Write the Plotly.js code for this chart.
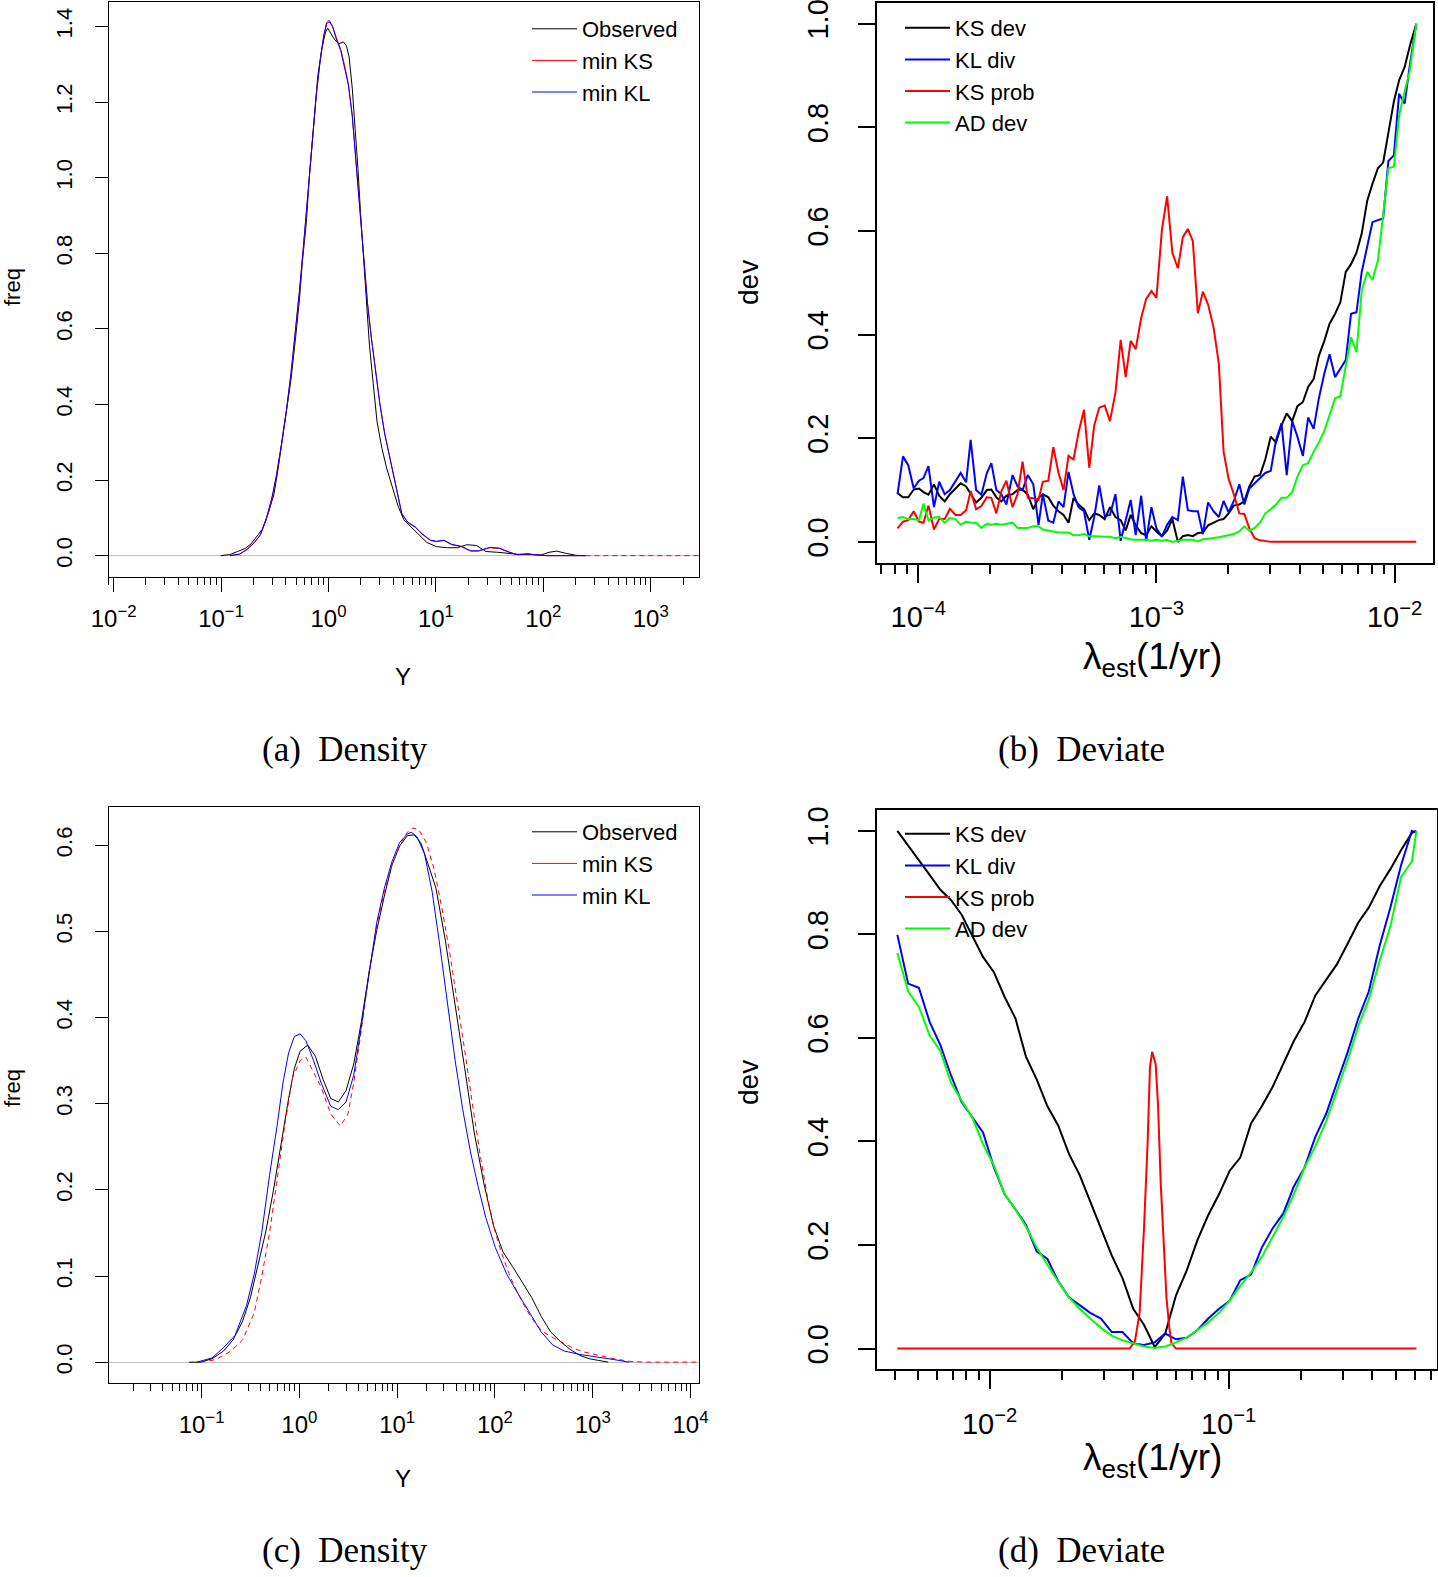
<!DOCTYPE html>
<html><head><meta charset="utf-8">
<script src="https://cdn.plot.ly/plotly-3.0.1.min.js"></script>
<style>html,body{margin:0;padding:0;background:#fff}#chart{width:1438px;height:1577px}</style>
</head><body><div id="chart"></div>
<script>
// ---------- Panel (a): density, values read as log10(Y) and freq ----------
const aObsLogY = [-1.004,-0.918,-0.847,-0.776,-0.722,-0.669,-0.616,-0.562,-0.509,-0.473,-0.438,-0.391,-0.349,-0.306,-0.270,-0.242,-0.206,-0.178,-0.153,-0.128,-0.100,-0.064,-0.028,-0.007,0.025,0.060,0.096,0.139,0.167,0.192,0.221,0.249,0.274,0.299,0.327,0.352,0.381,0.416,0.452,0.498,0.541,0.594,0.648,0.701,0.772,0.843,0.915,1.004,1.110,1.199,1.288,1.377,1.466,1.573,1.680,1.786,1.893,1.982,2.053,2.125,2.214,2.302,2.391];
const aObsFreq = [0,0.003,0.011,0.019,0.031,0.050,0.070,0.111,0.161,0.222,0.288,0.375,0.466,0.578,0.679,0.781,0.882,1.004,1.085,1.187,1.268,1.339,1.385,1.395,1.380,1.364,1.354,1.359,1.349,1.319,1.237,1.136,1.024,0.903,0.781,0.659,0.557,0.456,0.354,0.283,0.232,0.182,0.131,0.095,0.075,0.055,0.035,0.024,0.021,0.021,0.029,0.027,0.011,0.009,0.006,0.003,0.003,0.002,0.009,0.012,0.006,0.001,0];
const aFitLogY = [-0.918,-0.829,-0.758,-0.687,-0.633,-0.580,-0.527,-0.484,-0.438,-0.391,-0.349,-0.306,-0.270,-0.235,-0.199,-0.171,-0.142,-0.114,-0.082,-0.046,-0.018,0.007,0.036,0.071,0.114,0.149,0.185,0.221,0.256,0.292,0.327,0.363,0.399,0.434,0.477,0.523,0.577,0.630,0.683,0.737,0.808,0.879,0.950,1.004,1.075,1.146,1.235,1.324,1.395,1.502,1.591,1.680,1.751,1.858,1.929,2.036,2.391];
const aKSFreq = [0,0.004,0.016,0.035,0.055,0.095,0.151,0.212,0.293,0.385,0.481,0.598,0.700,0.811,0.933,1.035,1.126,1.217,1.298,1.370,1.406,1.412,1.400,1.370,1.339,1.298,1.248,1.166,1.044,0.923,0.801,0.669,0.578,0.496,0.405,0.324,0.253,0.182,0.111,0.088,0.075,0.055,0.040,0.037,0.040,0.029,0.024,0.012,0.012,0.021,0.019,0.009,0.003,0.005,0.002,0,0];
const aKLFreq = [0,0.004,0.017,0.036,0.056,0.097,0.153,0.214,0.295,0.387,0.483,0.600,0.702,0.813,0.935,1.037,1.128,1.219,1.300,1.374,1.410,1.416,1.402,1.368,1.336,1.295,1.245,1.163,1.041,0.920,0.798,0.666,0.575,0.494,0.403,0.322,0.251,0.180,0.110,0.089,0.076,0.056,0.041,0.038,0.041,0.030,0.025,0.013,0.013,0.022,0.020,0.010,0.003,0.005,0.002,0,0];
const aKSTailLogY = [2.391, 3.6];
const aKSTailFreq = [0, 0];

// ---------- Panel (b): deviates vs lambda_est, log10(lambda) ----------
const bLambdaLog = [-4.087,-4.064,-4.042,-4.019,-3.997,-3.978,-3.957,-3.934,-3.912,-3.889,-3.867,-3.844,-3.822,-3.799,-3.780,-3.757,-3.735,-3.712,-3.693,-3.672,-3.651,-3.630,-3.604,-3.583,-3.562,-3.540,-3.517,-3.495,-3.477,-3.454,-3.433,-3.411,-3.390,-3.369,-3.348,-3.327,-3.304,-3.282,-3.261,-3.240,-3.217,-3.195,-3.172,-3.150,-3.129,-3.108,-3.087,-3.064,-3.043,-3.021,-3.000,-2.977,-2.955,-2.933,-2.910,-2.889,-2.868,-2.847,-2.826,-2.805,-2.783,-2.760,-2.738,-2.718,-2.697,-2.675,-2.652,-2.631,-2.610,-2.588,-2.565,-2.543,-2.520,-2.498,-2.475,-2.453,-2.430,-2.408,-2.385,-2.363,-2.340,-2.318,-2.295,-2.273,-2.250,-2.228,-2.205,-2.183,-2.160,-2.138,-2.115,-2.093,-2.070,-2.048,-2.026,-2.003,-1.981,-1.958,-1.936,-1.909];
const bKSDev = [0.094,0.086,0.086,0.101,0.103,0.096,0.091,0.111,0.089,0.078,0.092,0.103,0.113,0.107,0.092,0.076,0.085,0.100,0.101,0.086,0.078,0.089,0.092,0.100,0.101,0.091,0.063,0.085,0.092,0.086,0.070,0.059,0.052,0.037,0.085,0.072,0.063,0.042,0.055,0.052,0.044,0.067,0.048,0.042,0.022,0.052,0.032,0.017,0.013,0.030,0.020,0.011,0.022,0.044,0.000,0.011,0.013,0.011,0.017,0.018,0.032,0.037,0.042,0.044,0.055,0.070,0.072,0.078,0.107,0.126,0.129,0.159,0.203,0.192,0.225,0.248,0.233,0.262,0.270,0.299,0.314,0.359,0.388,0.421,0.440,0.462,0.521,0.536,0.558,0.595,0.658,0.691,0.721,0.732,0.787,0.850,0.891,0.916,0.957,1.000];
const bKLDiv = [0.092,0.165,0.148,0.103,0.118,0.123,0.146,0.067,0.116,0.092,0.100,0.118,0.133,0.115,0.197,0.100,0.091,0.133,0.152,0.100,0.092,0.072,0.129,0.107,0.100,0.129,0.111,0.033,0.092,0.041,0.037,0.078,0.067,0.135,0.092,0.067,0.059,0.004,0.048,0.109,0.050,0.052,0.092,0.002,0.044,0.081,0.013,0.089,0.002,0.067,0.026,0.010,0.033,0.048,0.042,0.126,0.061,0.059,0.059,0.015,0.076,0.059,0.048,0.079,0.057,0.079,0.111,0.072,0.103,0.113,0.123,0.133,0.137,0.196,0.229,0.129,0.233,0.203,0.166,0.240,0.218,0.277,0.325,0.362,0.318,0.333,0.351,0.440,0.443,0.521,0.573,0.617,0.621,0.624,0.735,0.746,0.865,0.846,0.920,1.000];
const bKSProb = [0.026,0.039,0.042,0.059,0.039,0.037,0.070,0.024,0.044,0.044,0.064,0.052,0.052,0.061,0.098,0.063,0.069,0.086,0.085,0.055,0.098,0.118,0.067,0.092,0.155,0.085,0.084,0.081,0.116,0.118,0.183,0.133,0.100,0.166,0.159,0.211,0.255,0.143,0.225,0.259,0.263,0.233,0.288,0.390,0.318,0.388,0.372,0.432,0.469,0.484,0.471,0.602,0.667,0.558,0.528,0.588,0.604,0.580,0.441,0.483,0.458,0.414,0.344,0.174,0.122,0.092,0.055,0.054,0.026,0.007,0.003,0.001,0,0,0,0,0,0,0,0,0,0,0,0,0,0,0,0,0,0,0,0,0,0,0,0,0,0,0,0];
const bADDev = [0.046,0.048,0.044,0.044,0.042,0.074,0.041,0.047,0.048,0.037,0.046,0.044,0.033,0.039,0.037,0.037,0.027,0.035,0.033,0.035,0.033,0.035,0.037,0.027,0.027,0.027,0.030,0.030,0.024,0.022,0.020,0.018,0.018,0.018,0.013,0.013,0.015,0.011,0.011,0.010,0.010,0.010,0.007,0.010,0.007,0.005,0.004,0.004,0.004,0.002,0.004,0.002,0.004,0.000,0.002,0.004,0.004,0.004,0.001,0.005,0.006,0.007,0.009,0.011,0.013,0.015,0.020,0.030,0.022,0.027,0.037,0.055,0.063,0.072,0.085,0.085,0.096,0.126,0.148,0.152,0.174,0.192,0.214,0.244,0.277,0.281,0.336,0.395,0.366,0.484,0.521,0.506,0.543,0.632,0.721,0.724,0.824,0.869,0.909,1.000];

// ---------- Panel (c): density ----------
const cObsLogY = [-1.127,-1.010,-0.892,-0.775,-0.677,-0.579,-0.501,-0.423,-0.344,-0.266,-0.188,-0.110,-0.051,0.008,0.086,0.164,0.243,0.321,0.399,0.477,0.556,0.634,0.712,0.791,0.869,0.947,1.025,1.104,1.174,1.241,1.319,1.397,1.495,1.593,1.691,1.789,1.886,1.984,2.082,2.180,2.278,2.376,2.474,2.571,2.669,2.767,2.865,2.963,3.061,3.159];
const cObsFreq = [0,0.000,0.004,0.013,0.026,0.048,0.075,0.111,0.151,0.199,0.253,0.306,0.341,0.361,0.368,0.355,0.328,0.306,0.302,0.315,0.346,0.395,0.452,0.501,0.541,0.577,0.599,0.611,0.612,0.603,0.577,0.550,0.488,0.417,0.341,0.266,0.208,0.159,0.128,0.111,0.093,0.075,0.053,0.035,0.024,0.015,0.008,0.004,0.002,0];
const cKSLogY = [-1.010,-0.853,-0.697,-0.579,-0.462,-0.384,-0.305,-0.227,-0.149,-0.070,0.008,0.067,0.145,0.223,0.321,0.419,0.497,0.556,0.634,0.712,0.791,0.869,0.947,1.025,1.104,1.162,1.221,1.299,1.378,1.456,1.534,1.613,1.691,1.769,1.847,1.926,2.004,2.082,2.160,2.239,2.317,2.395,2.474,2.552,2.669,2.787,2.904,3.061,3.217,3.374,3.530,4.110];
const cKSFreq = [0,0.003,0.013,0.026,0.057,0.100,0.150,0.212,0.275,0.330,0.350,0.354,0.337,0.319,0.288,0.274,0.288,0.324,0.386,0.452,0.506,0.546,0.577,0.599,0.615,0.620,0.618,0.603,0.572,0.528,0.478,0.421,0.362,0.300,0.242,0.190,0.150,0.122,0.098,0.079,0.062,0.048,0.037,0.031,0.024,0.017,0.012,0.008,0.004,0.001,0,0];
const cKLLogY = [-1.049,-0.892,-0.775,-0.658,-0.540,-0.462,-0.384,-0.305,-0.227,-0.168,-0.110,-0.051,0.008,0.067,0.145,0.223,0.321,0.399,0.477,0.556,0.634,0.712,0.791,0.869,0.947,1.025,1.104,1.143,1.202,1.280,1.358,1.436,1.515,1.593,1.671,1.750,1.828,1.906,2.004,2.121,2.239,2.356,2.474,2.591,2.708,2.865,3.061,3.217,3.374];
const cKLFreq = [0,0.005,0.017,0.031,0.066,0.102,0.151,0.217,0.275,0.324,0.359,0.378,0.381,0.373,0.350,0.324,0.297,0.293,0.302,0.333,0.390,0.452,0.510,0.550,0.581,0.603,0.613,0.615,0.610,0.590,0.546,0.484,0.417,0.350,0.293,0.244,0.204,0.168,0.133,0.102,0.079,0.057,0.035,0.020,0.013,0.009,0.006,0.003,0];

// ---------- Panel (d): deviates ----------
const dLambdaLog = [-2.386,-2.341,-2.296,-2.251,-2.206,-2.161,-2.117,-2.072,-2.027,-1.982,-1.937,-1.892,-1.848,-1.803,-1.758,-1.713,-1.668,-1.623,-1.579,-1.534,-1.489,-1.444,-1.399,-1.354,-1.309,-1.265,-1.220,-1.175,-1.130,-1.085,-1.040,-0.996,-0.951,-0.906,-0.861,-0.816,-0.771,-0.727,-0.682,-0.637,-0.592,-0.547,-0.502,-0.457,-0.413,-0.368,-0.323,-0.278,-0.233,-0.214];
const dKSDev = [1.000,0.972,0.945,0.915,0.886,0.866,0.838,0.797,0.756,0.727,0.679,0.638,0.564,0.520,0.468,0.431,0.376,0.335,0.284,0.232,0.180,0.136,0.077,0.046,0.003,0.029,0.103,0.151,0.210,0.258,0.298,0.343,0.369,0.435,0.468,0.505,0.549,0.594,0.631,0.682,0.712,0.742,0.782,0.823,0.852,0.893,0.926,0.963,0.996,1.000];
const dKLDiv = [0.799,0.705,0.697,0.631,0.586,0.527,0.476,0.446,0.417,0.350,0.298,0.269,0.239,0.188,0.173,0.130,0.099,0.084,0.069,0.058,0.032,0.032,0.010,0.007,0.012,0.029,0.018,0.021,0.036,0.058,0.077,0.092,0.132,0.143,0.195,0.232,0.261,0.313,0.350,0.409,0.453,0.513,0.572,0.638,0.690,0.778,0.852,0.934,1.000,0.996];
const dADDev = [0.764,0.690,0.660,0.605,0.575,0.513,0.479,0.446,0.394,0.354,0.298,0.269,0.236,0.195,0.162,0.129,0.099,0.077,0.058,0.040,0.025,0.016,0.010,0.004,0.001,0.004,0.012,0.021,0.036,0.051,0.069,0.092,0.121,0.147,0.177,0.217,0.254,0.298,0.350,0.391,0.439,0.498,0.557,0.623,0.675,0.749,0.815,0.911,0.941,1.000];
const dKSProbLambdaLog = [-2.386,-1.414,-1.392,-1.372,-1.354,-1.339,-1.329,-1.320,-1.305,-1.295,-1.284,-1.272,-1.260,-1.248,-1.239,-1.220,-0.214];
const dKSProb = [0,0,0.014,0.070,0.232,0.395,0.543,0.573,0.549,0.468,0.320,0.210,0.099,0.040,0.010,0,0];

// ---------- tick labels ----------
const aXTickVals = [0.01,0.1,1,10,100,1000];
const aXTickText = ['10<sup>−2</sup>','10<sup>−1</sup>','10<sup>0</sup>','10<sup>1</sup>','10<sup>2</sup>','10<sup>3</sup>'];
const cXTickVals = [0.1,1,10,100,1000,10000];
const cXTickText = ['10<sup>−1</sup>','10<sup>0</sup>','10<sup>1</sup>','10<sup>2</sup>','10<sup>3</sup>','10<sup>4</sup>'];
const bXTickVals = [0.0001,0.001,0.01];
const bXTickText = ['10<sup>−4</sup>','10<sup>−3</sup>','10<sup>−2</sup>'];
const dXTickVals = [0.01,0.1];
const dXTickText = ['10<sup>−2</sup>','10<sup>−1</sup>'];
const aYTickVals = [0,0.2,0.4,0.6,0.8,1.0,1.2,1.4];
const aYTickText = ['0.0','0.2','0.4','0.6','0.8','1.0','1.2','1.4'];
const cYTickVals = [0,0.1,0.2,0.3,0.4,0.5,0.6];
const cYTickText = ['0.0','0.1','0.2','0.3','0.4','0.5','0.6'];
const devTickVals = [0,0.2,0.4,0.6,0.8,1.0];
const devTickText = ['0.0','0.2','0.4','0.6','0.8','1.0'];

// ---------- helpers ----------
const W = 1438, H = 1577;
const px = v => v / W;
const py = v => 1 - v / H;
const toVal = a => a.map(e => Math.pow(10, e));
function minorTicks(lo, hi) {
  const out = [];
  for (let e = Math.floor(lo) - 1; e <= Math.ceil(hi); e++) {
    for (let m = 2; m <= 9; m++) {
      const v = m * Math.pow(10, e);
      const l = Math.log10(v);
      if (l >= lo && l <= hi) out.push(v);
    }
  }
  return out;
}
function tr(xl, y, name, color, width, xa, ya, leg, dash, show) {
  return {type:'scatter', mode:'lines', x:toVal(xl), y:y, name:name,
    line:{color:color, width:width, dash:dash || 'solid'},
    xaxis:xa, yaxis:ya, legend:leg, showlegend:show !== false, hoverinfo:'skip'};
}
// legend-only key (solid line sample, no data drawn)
function key(name, color, width, xa, ya, leg) {
  return {type:'scatter', mode:'lines', x:[null], y:[null], name:name,
    line:{color:color, width:width}, xaxis:xa, yaxis:ya, legend:leg, hoverinfo:'skip'};
}

const DASH = '5px,4px';
const traces = [
  tr(aObsLogY, aObsFreq, 'Observed', 'black', 1, 'x', 'y', 'legend'),
  tr(aFitLogY, aKSFreq, 'min KS', '#ff0000', 1, 'x', 'y', 'legend'),
  tr(aKSTailLogY, aKSTailFreq, 'min KS', '#ff0000', 1, 'x', 'y', 'legend', DASH, false),
  tr(aFitLogY, aKLFreq, 'min KL', '#0000ff', 1, 'x', 'y', 'legend'),

  tr(bLambdaLog, bKSDev, 'KS dev', 'black', 2, 'x2', 'y2', 'legend2'),
  tr(bLambdaLog, bKLDiv, 'KL div', '#0000ff', 2, 'x2', 'y2', 'legend2'),
  tr(bLambdaLog, bKSProb, 'KS prob', '#ff0000', 2, 'x2', 'y2', 'legend2'),
  tr(bLambdaLog, bADDev, 'AD dev', '#00ff00', 2, 'x2', 'y2', 'legend2'),

  tr(cObsLogY, cObsFreq, 'Observed', 'black', 1, 'x3', 'y3', 'legend3'),
  key('min KS', '#ff0000', 1, 'x3', 'y3', 'legend3'),
  tr(cKSLogY, cKSFreq, 'min KS', '#ff0000', 1, 'x3', 'y3', 'legend3', DASH, false),
  tr(cKLLogY, cKLFreq, 'min KL', '#0000ff', 1, 'x3', 'y3', 'legend3'),

  tr(dLambdaLog, dKSDev, 'KS dev', 'black', 2, 'x4', 'y4', 'legend4'),
  tr(dLambdaLog, dKLDiv, 'KL div', '#0000ff', 2, 'x4', 'y4', 'legend4'),
  tr(dKSProbLambdaLog, dKSProb, 'KS prob', '#ff0000', 2, 'x4', 'y4', 'legend4'),
  tr(dLambdaLog, dADDev, 'AD dev', '#00ff00', 2, 'x4', 'y4', 'legend4')
];

const SANS = 'Liberation Sans, Arial, Helvetica, sans-serif';
const SERIF = 'Liberation Serif, Times New Roman, serif';

function xAxis(dom, rng, anchor, tv, tt, lw, tlen, fsize, stand) {
  return {type:'log', domain:dom, range:rng, anchor:anchor,
    showgrid:false, zeroline:false, showline:true, mirror:true, linecolor:'black', linewidth:lw,
    ticks:'outside', ticklen:tlen, tickwidth:lw, tickcolor:'black',
    tickmode:'array', tickvals:tv, ticktext:tt, ticklabelstandoff:stand, ticklabeloverflow:'allow',
    tickfont:{family:SANS, size:fsize, color:'black'},
    minor:{tickmode:'array', tickvals:minorTicks(rng[0], rng[1]), ticks:'outside', ticklen:Math.round(tlen/2), tickwidth:lw, tickcolor:'black', showgrid:false}};
}
function yAxis(dom, rng, anchor, tv, tt, lw, tlen, fsize, zl, stand) {
  return {domain:dom, range:rng, anchor:anchor,
    showgrid:false, zeroline:zl, zerolinecolor:'#bebebe', zerolinewidth:1,
    showline:true, mirror:true, linecolor:'black', linewidth:lw,
    ticks:'outside', ticklen:tlen, tickwidth:lw, tickcolor:'black',
    tickmode:'array', tickvals:tv, ticktext:tt, tickangle:-90, ticklabelstandoff:stand, ticklabeloverflow:'allow',
    tickfont:{family:SANS, size:fsize, color:'black'}};
}

const legBase = (x, y, size) => ({x:px(x), y:py(y), xanchor:'left', yanchor:'top',
  bgcolor:'rgba(0,0,0,0)', borderwidth:0, font:{family:SANS, size:size, color:'black'},
  itemwidth:45, tracegroupgap:0, itemclick:false, itemdoubleclick:false});

function ann(text, x, y, size, family, angle) {
  return {text:text, x:px(x), y:py(y), xref:'paper', yref:'paper', showarrow:false,
    xanchor:'center', yanchor:'middle', textangle:angle || 0,
    font:{family:family, size:size, color:'black'}};
}

const layout = {
  width:W, height:H, margin:{l:0, r:0, t:0, b:0},
  paper_bgcolor:'white', plot_bgcolor:'white', showlegend:true,
  xaxis: xAxis([px(108.6), px(698.8)], [-2.047, 3.447], 'y', aXTickVals, aXTickText, 1, 14, 24, 6),
  yaxis: yAxis([py(577), py(1.5)], [-0.0564, 1.466], 'x', aYTickVals, aYTickText, 1, 13, 22, true, 14),
  xaxis2: xAxis([px(876.8), px(1432.7)], [-4.174, -1.840], 'y2', bXTickVals, bXTickText, 2, 18, 29, 10),
  yaxis2: yAxis([py(562.6), py(3)], [-0.04, 1.04], 'x2', devTickVals, devTickText, 2, 17, 29, false, 18),
  xaxis3: xAxis([px(108.6), px(698.8)], [-1.951, 4.085], 'y3', cXTickVals, cXTickText, 1, 14, 24, 6),
  yaxis3: yAxis([py(1383.2), py(806.9)], [-0.0244, 0.6444], 'x3', cYTickVals, cYTickText, 1, 13, 22, true, 14),
  xaxis4: xAxis([px(876.8), px(1436.5)], [-2.472, -0.130], 'y4', dXTickVals, dXTickText, 2, 18, 29, 10),
  yaxis4: yAxis([py(1369.3), py(810.1)], [-0.04, 1.04], 'x4', devTickVals, devTickText, 2, 17, 29, false, 18),
  legend: legBase(527, 8, 22),
  legend2: legBase(900, 7, 22),
  legend3: legBase(527, 811, 22),
  legend4: legBase(900, 813, 22),
  annotations: [
    ann('freq', 12, 287, 22, SANS, -90),
    ann('Y', 403, 676, 24, SANS),
    ann('dev', 748, 283, 28, SANS, -90),
    ann('λ<sub>est</sub>(1/yr)', 1152, 659, 37, SANS),
    ann('(a)  Density', 345, 750, 35, SERIF),
    ann('(b)  Deviate', 1081, 750, 35, SERIF),
    ann('freq', 12, 1088, 22, SANS, -90),
    ann('Y', 403, 1478, 24, SANS),
    ann('dev', 748, 1083, 28, SANS, -90),
    ann('λ<sub>est</sub>(1/yr)', 1152, 1460, 37, SANS),
    ann('(c)  Density', 345, 1550, 35, SERIF),
    ann('(d)  Deviate', 1081, 1550, 35, SERIF)
  ]
};

Plotly.newPlot('chart', traces, layout, {displayModeBar:false, staticPlot:true});
</script></body></html>
